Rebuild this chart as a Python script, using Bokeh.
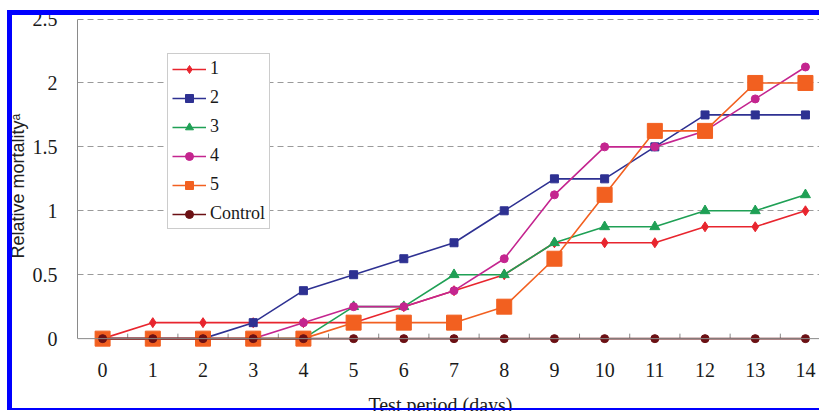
from bokeh.plotting import figure
from bokeh.models import Range1d, FixedTicker, NumeralTickFormatter, Span, Title, InlineStyleSheet
from bokeh.core.properties import value
from bokeh.embed import file_html
from bokeh.resources import INLINE

# ---- data ----
days = [0, 1, 2, 3, 4, 5, 6, 7, 8, 9, 10, 11, 12, 13, 14]
x_tick_labels = ["0", "1", "2", "3", "4", "5", "6", "7", "8", "9", "10", "11", "12", "13", "14"]
s1 = [0, 0.125, 0.125, 0.125, 0.125, 0.125, 0.25, 0.375, 0.5, 0.75, 0.75, 0.75, 0.875, 0.875, 1.0]
s2 = [0, 0, 0, 0.125, 0.375, 0.5, 0.625, 0.75, 1.0, 1.25, 1.25, 1.5, 1.75, 1.75, 1.75]
s3 = [0, 0, 0, 0, 0, 0.25, 0.25, 0.5, 0.5, 0.75, 0.875, 0.875, 1.0, 1.0, 1.125]
s4 = [0, 0, 0, 0, 0.125, 0.25, 0.25, 0.375, 0.625, 1.125, 1.5, 1.5, 1.625, 1.875, 2.125]
s5 = [0, 0, 0, 0, 0, 0.125, 0.125, 0.125, 0.25, 0.625, 1.125, 1.625, 1.625, 2.0, 2.0]
control = [0, 0, 0, 0, 0, 0, 0, 0, 0, 0, 0, 0, 0, 0, 0]
series_names = ["1", "2", "3", "4", "5", "Control"]
y_ticks = [0, 0.5, 1, 1.5, 2, 2.5]
grid_ticks = [0.5, 1, 1.5, 2, 2.5]
x_boundaries = [-0.5, 0.5, 1.5, 2.5, 3.5, 4.5, 5.5, 6.5, 7.5, 8.5, 9.5, 10.5, 11.5, 12.5, 13.5, 14.5]
x_title = "Test period (days)"
y_title = "Relative mortality\u1d43"
x_title_pos = 6.73

series = [s1, s2, s3, s4, s5, control]
colors = ["#E8252E", "#2E3192", "#1FA055", "#C4258F", "#F26020", "#6B1014"]
markers = ["diamond", "square", "triangle", "circle", "square", "circle"]
sizes = [10, 8, 10, 8, 15, 8]

W, H = 819, 411
p = figure(width=W, height=H, output_backend="svg", toolbar_location=None,
           x_axis_location=None,
           x_range=Range1d(-0.5, 14.28), y_range=Range1d(-0.570, 2.512),
           min_border_left=77, min_border_right=0, min_border_top=17, min_border_bottom=0,
           background_fill_color=None, border_fill_color=None)
p.outline_line_color = None
p.styles = {"box-shadow": "inset 7px 0 0 0 #FFFFFF, inset 0 10px 0 0 #FFFFFF, inset 0 -1px 0 0 #FFFFFF, "
                          "inset 12px 0 0 0 #0000FF, inset 0 15px 0 0 #0000FF, "
                          "inset 0 -3px 0 0 #0000FF"}
p.stylesheets = [InlineStyleSheet(css=(
    ":host { position: relative; }\n"
    ":host::after { content: ''; position: absolute; left: 7px; right: 0; top: 10px; bottom: 1px;"
    " border-left: 5px solid #0000FF; border-top: 5px solid #0000FF; border-bottom: 2px solid #0000FF;"
    " pointer-events: none; z-index: 100; }"))]
p.xgrid.visible = False
p.ygrid.ticker = FixedTicker(ticks=grid_ticks)
p.ygrid.grid_line_color = "#9a9a9a"
p.ygrid.grid_line_dash = "6 4"
p.ygrid.grid_line_width = 1

serif = "Liberation Serif"
axis_grey = "#8a8a8a"
text_black = "#1a1a1a"

ya = p.yaxis[0]
ya.ticker = FixedTicker(ticks=y_ticks)
ya.formatter = NumeralTickFormatter(format="0.[0]")
ya.bounds = (0, 2.5)
ya.axis_line_color = axis_grey
ya.major_tick_line_color = None
ya.minor_tick_line_color = None
ya.major_label_text_font = serif
ya.major_label_text_font_size = "20px"
ya.major_label_text_color = text_black
ya.major_label_standoff = 14

p.add_layout(Title(text=y_title, align="left", offset=153, standoff=4,
                   text_font="Liberation Sans", text_font_size="18px",
                   text_font_style="normal", text_color="#222222"), "left")

# x axis: line at y = 0, inward ticks between the days, day labels below
p.add_layout(Span(location=0, dimension="width", line_color=axis_grey, line_width=1))
p.ray(x=x_boundaries, y=0, length=5, length_units="screen", angle=90, angle_units="deg",
      line_color=axis_grey, line_width=1)
p.text(x=days, y=0, text=x_tick_labels, y_offset=31, text_align="center",
       text_baseline="middle", text_font=value(serif), text_font_size="20px",
       text_color=text_black)
p.text(x=[x_title_pos], y=[0], text=[x_title], y_offset=66, text_align="center",
       text_baseline="middle", text_font=value(serif), text_font_size="20px",
       text_color=text_black)

for ys, name, c, m, s in zip(series, series_names, colors, markers, sizes):
    p.line(days, ys, line_color=c, line_width=1.6, legend_label=name)
    p.scatter(days, ys, marker=m, size=s, fill_color=c, line_color=c, legend_label=name)

lg = p.legend[0]
lg.location = (90, 182)
lg.border_line_color = "#9a9a9a"
lg.border_line_width = 1
lg.background_fill_color = "white"
lg.background_fill_alpha = 1
lg.padding = 4
lg.margin = 0
lg.spacing = 8
lg.glyph_width = 34
lg.glyph_height = 20
lg.label_height = 20
lg.label_standoff = 4
lg.label_text_font = serif
lg.label_text_font_size = "18px"
lg.label_text_color = text_black

open("out.html", "w").write(file_html(p, INLINE))
